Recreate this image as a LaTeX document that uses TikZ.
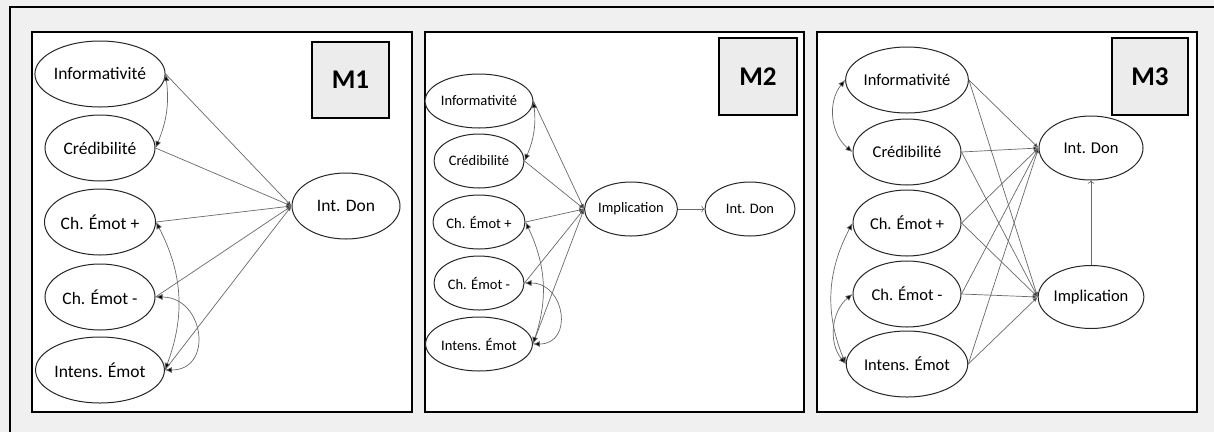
\documentclass[tikz,border=0pt]{standalone}
\usepackage{fontspec}
\setmainfont{Carlito}
\usetikzlibrary{shapes.geometric,arrows.meta}
\definecolor{bggray}{RGB}{240,240,240}
\definecolor{boxgray}{RGB}{236,236,236}
\definecolor{linegray}{RGB}{105,105,105}
\tikzset{
  varA/.style={draw=black!85, line width=1pt, ellipse, fill=white, inner sep=0pt,
    minimum width=110pt, minimum height=66pt, font=\fontsize{17.5}{20}\selectfont},
  varB/.style={varA, minimum width=90pt, minimum height=54pt, font=\fontsize{14.5}{16}\selectfont},
  varC/.style={varA, minimum width=108pt, minimum height=66pt, font=\fontsize{16.5}{19}\selectfont},
  path/.style={draw=linegray, line width=0.7pt, -{Latex[length=5pt,width=4pt,fill=black]}},
  covar/.style={draw=linegray, line width=0.7pt,
    {Latex[length=7pt,width=6pt,fill=black]}-{Latex[length=7pt,width=6pt,fill=black]}},
  panel/.style={draw=black, line width=2pt, fill=white},
  tag/.style={draw=black, line width=2pt, fill=boxgray, font=\fontsize{27}{30}\selectfont\bfseries},
}

\begin{document}
\begin{tikzpicture}[x=1pt, y=-1pt]
    \useasboundingbox (0,0) rectangle (1214,432);
    \fill[bggray] (0,0) rectangle (1214,432);
    % Outer frame (only top and left edges in view)
    \draw[black, line width=2pt] (10,432) -- (10,7) -- (1214,7);
    % Panel frames
    \draw[panel] (32,32) rectangle (412,412);
    \draw[panel] (425,32) rectangle (804,412);
    \draw[panel] (817,32) rectangle (1197,412);
    % Model tags
    \node[tag, minimum width=77pt, minimum height=76pt] (m1) at (350.5,80) {M1};
    \node[tag, minimum width=78pt, minimum height=77pt] (m2) at (758,76.5) {M2};
    \node[tag, minimum width=76pt, minimum height=77pt] (m3) at (1150,76.5) {M3};

    % M1: direct effects on Int. Don
    \node[varA] (info1) at (100,74) {Informativité};
    \node[varA] (cred1) at (100,148) {Crédibilité};
    \node[varA] (pos1) at (100,222) {Ch. Émot +};
    \node[varA] (neg1) at (100,297) {Ch. Émot -};
    \node[varA] (int1) at (100,370) {Intens. Émot};
    \node[varA, minimum width=108pt] (don1) at (346,206) {Int. Don};
    \draw[path] (info1.east) -- (don1.west);
    \draw[path] (cred1.east) -- (don1.west);
    \draw[path] (pos1.east) -- (don1.west);
    \draw[path] (neg1.east) -- (don1.west);
    \draw[path] (int1.east) -- (don1.west);
    \draw[covar] (info1.east) to[bend left=15] (cred1.east);
    \draw[covar] (pos1.east) to[bend left=24] (int1.east);
    \draw[covar] (neg1.east) to[out=0, in=0, looseness=1.7] (int1.east);

    % M2: mediation through Implication
    \node[varB] (info2) at (479,101) {Informativité};
    \node[varB] (cred2) at (479,161) {Crédibilité};
    \node[varB] (pos2) at (479,222) {Ch. Émot +};
    \node[varB] (neg2) at (479,283) {Ch. Émot -};
    \node[varB] (int2) at (479,344) {Intens. Émot};
    \node[varB, minimum width=92pt] (impl2) at (631,209) {Implication};
    \node[varB] (don2) at (750,209) {Int. Don};
    \draw[path] (info2.east) -- (impl2.west);
    \draw[path] (cred2.east) -- (impl2.west);
    \draw[path] (pos2.east) -- (impl2.west);
    \draw[path] (neg2.east) -- (impl2.west);
    \draw[path] (int2.east) -- (impl2.west);
    \draw[draw=linegray, line width=0.7pt, ->] (impl2.east) -- (don2.west);
    \draw[covar] (info2.east) to[bend left=15] (cred2.east);
    \draw[covar] (pos2.east) to[bend left=22] (int2.east);
    \draw[covar] (neg2.east) to[out=0, in=0, looseness=1.7] (int2.east);

    % M3: direct and mediated effects
    \node[varC] (info3) at (907,80) {Informativité};
    \node[varC] (cred3) at (907,152) {Crédibilité};
    \node[varC] (pos3) at (907,223) {Ch. Émot +};
    \node[varC] (neg3) at (907,294) {Ch. Émot -};
    \node[varC] (int3) at (907,364) {Intens. Émot};
    \node[varC, minimum width=104pt, minimum height=64pt] (don3) at (1091,148) {Int. Don};
    \node[varC, minimum width=105pt, minimum height=63pt] (impl3) at (1091,297) {Implication};
    \draw[path] (info3.east) -- (don3.west);
    \draw[path] (cred3.east) -- (don3.west);
    \draw[path] (pos3.east) -- (don3.west);
    \draw[path] (neg3.east) -- (don3.west);
    \draw[path] (int3.east) -- (don3.west);
    \draw[path] (info3.east) -- (impl3.west);
    \draw[path] (cred3.east) -- (impl3.west);
    \draw[path] (pos3.east) -- (impl3.west);
    \draw[path] (neg3.east) -- (impl3.west);
    \draw[path] (int3.east) -- (impl3.west);
    \draw[draw=linegray, line width=0.7pt, ->] (impl3.north) -- (don3.south);
    \draw[covar] (info3.west) to[bend right=45] (cred3.west);
    \draw[covar] (pos3.west) to[bend right=25] (int3.west);
    \draw[covar] (neg3.west) to[bend right=45] (int3.west);
\end{tikzpicture}
\end{document}
